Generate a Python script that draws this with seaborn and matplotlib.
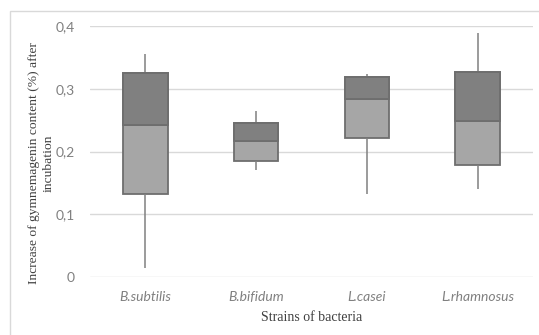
import numpy as np
import pandas as pd
import matplotlib
matplotlib.use("Agg")
import matplotlib.pyplot as plt
import seaborn as sns
from matplotlib.patches import Rectangle

strains = ["B.subtilis", "B.bifidum", "L.casei", "L.rhamnosus"]
mins = [0.014, 0.171, 0.133, 0.141]
q1s = [0.132, 0.185, 0.222, 0.179]
medians = [0.243, 0.216, 0.283, 0.249]
q3s = [0.325, 0.246, 0.318, 0.327]
maxs = [0.356, 0.265, 0.324, 0.389]
yticks = [0, 0.1, 0.2, 0.3, 0.4]
ytick_labels = ["0", "0,1", "0,2", "0,3", "0,4"]

rows = []
for s, a, b, c, d, e in zip(strains, mins, q1s, medians, q3s, maxs):
    for v in (a, b, c, d, e):
        rows.append({"strain": s, "value": v})
df = pd.DataFrame(rows)

sns.set_theme(style="white")
plt.rcParams["font.family"] = ["Lato", "DejaVu Sans"]

fig = plt.figure(figsize=(5.39, 3.35), dpi=100)
fig.patches.append(Rectangle((10 / 539, -0.1), 1.2, (335 - 11) / 335 + 0.1,
                             transform=fig.transFigure, fill=False,
                             edgecolor="#d9d9d9", linewidth=1.0))
ax = fig.add_axes([90 / 539, 58 / 335, 443 / 539, 251 / 335])

ax.set_axisbelow(True)
ax.yaxis.grid(True, color="#d9d9d9", linewidth=1.0)

edge = "#6e6e6e"
sns.boxplot(data=df, x="strain", y="value", order=strains, whis=(0, 100),
            width=0.4, color="#a6a6a6", saturation=1, linecolor=edge,
            linewidth=1.3, showcaps=False, ax=ax,
            boxprops=dict(facecolor="#a6a6a6", edgecolor=edge, zorder=2),
            whiskerprops=dict(color="#808080", linewidth=1.1),
            medianprops=dict(color=edge, linewidth=1.3))

pos = np.arange(len(strains))
ax.bar(pos, np.array(q3s) - np.array(medians), bottom=medians, width=0.4,
       color="#808080", edgecolor=edge, linewidth=1.3, zorder=3)

ax.set_xlim(-0.5, 3.5)
ax.set_ylim(0, 0.4)
ax.set_yticks(yticks)
ax.set_yticklabels(ytick_labels)
for sp in ax.spines.values():
    sp.set_visible(False)
ax.tick_params(axis="y", length=0, pad=11, labelsize=10, labelcolor="#808080")
ax.tick_params(axis="x", length=0, pad=10, labelsize=10, labelcolor="#808080")
for t in ax.get_xticklabels():
    t.set_fontstyle("italic")

ax.set_xlabel("Strains of bacteria", family=["Liberation Serif"], fontsize=10,
              color="#404040", labelpad=6)
ax.set_ylabel("Increase of gymnemagenin content (%) after\nincubation",
              family=["Liberation Serif"], fontsize=9.7, color="#404040",
              linespacing=1.25)
ax.yaxis.set_label_coords(-0.08, 0.455)

fig.savefig("out.png", dpi=100)
